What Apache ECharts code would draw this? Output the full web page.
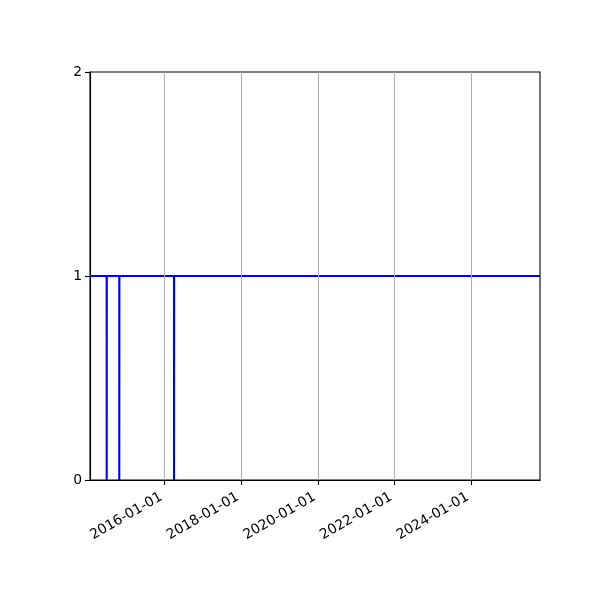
<!DOCTYPE html>
<html>
<head>
<meta charset="utf-8">
<script src="https://cdn.jsdelivr.net/npm/echarts@6/dist/echarts.min.js"></script>
<style>
  html, body { margin: 0; padding: 0; background: #fff; }
  #chart { width: 600px; height: 600px; }
</style>
</head>
<body>
<div id="chart"></div>
<script>
// step series: 1 everywhere, dropping to 0 on a few days
var times = ['2014-01-19', '2014-06-27', '2014-06-28', '2014-10-25', '2014-10-26',
             '2016-03-30', '2016-03-31', '2025-10-17'];
var values = [1, 0, 1, 0, 1, 0, 1, 1];
var xTicks = ['2016-01-01', '2018-01-01', '2020-01-01', '2022-01-01', '2024-01-01'];
var yTicks = [0, 1, 2];

var xMin = '2014-01-19';
var xMax = '2025-10-17';

function ms(d) { return +new Date(d + 'T00:00:00Z'); }
var tickMs = xTicks.map(ms);

var chart = echarts.init(document.getElementById('chart'));
chart.setOption({
  animation: false,
  textStyle: { fontFamily: 'DejaVu Sans' },
  grid: {
    left: 90, right: 60, top: 72, bottom: 120,
    show: true, borderColor: '#000', borderWidth: 1.1, backgroundColor: 'transparent'
  },
  xAxis: {
    type: 'value',
    min: ms(xMin),
    max: ms(xMax),
    axisLine: { show: true, onZero: false, lineStyle: { color: '#000', width: 1.1 } },
    axisTick: { show: true, length: 5, customValues: tickMs, lineStyle: { color: '#000', width: 1.1 } },
    axisLabel: {
      customValues: tickMs,
      rotate: 30,
      margin: 14,
      padding: [0, 4, 0, 0],
      color: '#000',
      fontSize: 13.9,
      formatter: function (v) {
        var d = new Date(v);
        var p = function (n) { return (n < 10 ? '0' : '') + n; };
        return d.getUTCFullYear() + '-' + p(d.getUTCMonth() + 1) + '-' + p(d.getUTCDate());
      }
    },
    splitLine: { show: false }
  },
  yAxis: {
    type: 'value',
    min: 0, max: 2, interval: 1,
    axisLine: { show: true, lineStyle: { color: '#000', width: 1.1 } },
    axisTick: { show: true, length: 5, lineStyle: { color: '#000', width: 1.1 } },
    axisLabel: { color: '#000', fontSize: 13.9, margin: 8 },
    splitLine: { show: false }
  },
  series: [
    {
      type: 'line',
      z: 1,
      silent: true,
      data: [],
      markLine: {
        silent: true,
        symbol: 'none',
        label: { show: false },
        lineStyle: { color: '#b0b0b0', width: 1.1, type: 'solid' },
        data: tickMs.map(function (t) { return { xAxis: t }; })
      }
    },
    {
      type: 'line',
      z: 3,
      step: 'end',
      showSymbol: false,
      symbol: 'none',
      lineStyle: { color: '#0000ff', width: 2.1 },
      data: times.map(function (t, i) { return [ms(t), values[i]]; })
    }
  ]
});
</script>
</body>
</html>
